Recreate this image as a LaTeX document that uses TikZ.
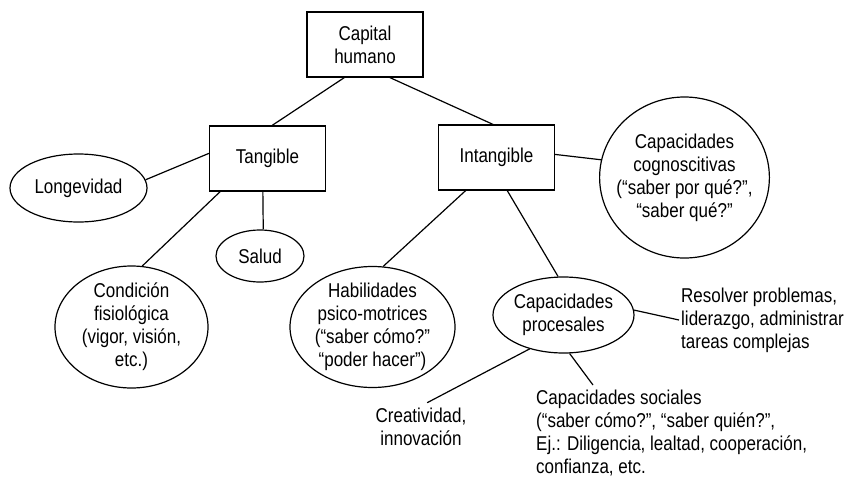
\documentclass[tikz,border=0pt]{standalone}
\usepackage{fontspec}
\setmainfont{Liberation Sans}[FakeStretch=0.85]
\usetikzlibrary{shapes.geometric}

\tikzset{
  txt/.style={font=\fontsize{20}{23}\selectfont},
  box/.style={txt, draw, line width=1.2pt, rectangle, minimum width=116pt, minimum height=65pt, align=center},
  oval/.style={txt, draw, line width=1.2pt, ellipse, inner xsep=-8pt, inner ysep=-4pt, align=center},
  lbl/.style={txt, inner sep=2pt},
  link/.style={line width=1.2pt}
}

\begin{document}
\begin{tikzpicture}[x=1pt,y=-1pt]
      \useasboundingbox (0,0) rectangle (860,477);

      % boxes
      \node[box] (cap) at (365,44.5) {Capital\\humano};
      \node[box] (tang) at (267.5,158.5) {Tangible};
      \node[box] (intang) at (496.5,157.5) {Intangible};

      % ellipses
      \node[oval, minimum width=137pt, minimum height=68pt] (longev) at (78.5,188) {Longevidad};
      \node[oval, minimum width=88pt, minimum height=52pt] (salud) at (260,256) {Salud};
      \node[oval, minimum width=153pt, minimum height=122pt] (cond) at (131.5,327)
        {Condición\\fisiológica\\(vigor, visión,\\etc.)};
      \node[oval, minimum width=165pt, minimum height=121pt] (habil) at (372.5,327)
        {Habilidades\\psico-motrices\\(“saber cómo?”\\“poder hacer”)};
      \node[oval, minimum width=157pt, minimum height=161pt] (cogn) at (684.5,177.5)
        {Capacidades\\cognoscitivas\\(“saber por qué?”,\\“saber qué?”};
      \node[oval, minimum width=141pt, minimum height=76pt] (proc) at (563.5,315)
        {Capacidades\\procesales};

      % plain texts
      \node[lbl, anchor=west, align=left] (resolv) at (679,320)
        {Resolver problemas,\\liderazgo, administrar\\tareas complejas};
      \node[lbl, align=center] (creat) at (421,427) {Creatividad,\\innovación};
      \node[lbl, anchor=west, align=left] (social) at (534,433)
        {Capacidades sociales\\(“saber cómo?”, “saber quién?”,\\Ej.: Diligencia, lealtad, cooperación,\\confianza, etc.};
      \coordinate (socend) at (593,385);

      % links
      \draw[link] (cap.238) -- (tang.82);
      \draw[link] (cap.307.6) -- (intang.96);
      \draw[link] (tang.175.6) -- (longev.7);
      \draw[link] (tang.262) -- (salud.83);
      \draw[link] (tang.215.5) -- (cond.80);
      \draw[link] (intang.227.8) -- (habil.80);
      \draw[link] (intang.288) -- (proc.98);
      \draw[link] (intang.3.4) -- (cogn.168.7);
      \draw[link] (proc.4) -- (resolv.west);
      \draw[link, shorten >=7pt] (proc.225.4) -- (creat.north);
      \draw[link] (proc.279) -- (socend);
\end{tikzpicture}
\end{document}
